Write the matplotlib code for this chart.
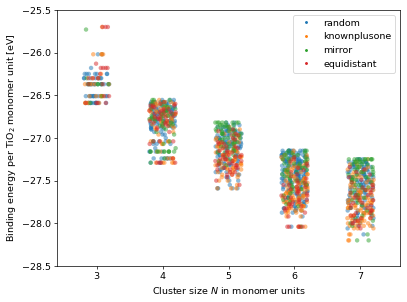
import numpy as np
import pandas as pd
import matplotlib
matplotlib.use("Agg")
import matplotlib.pyplot as plt
from matplotlib.lines import Line2D
import seaborn as sns

methods = ["random", "knownplusone", "mirror", "equidistant"]
colors = ["#1f77b4", "#ff7f0e", "#2ca02c", "#d62728"]
sizes = [3, 4, 5, 6, 7]

# energy levels (eV per TiO2 unit) and number of structures per level, per method
e3 = [-25.70, -25.73, -26.02, -26.13, -26.18, -26.25, -26.30, -26.37, -26.51, -26.59]
c3_random = [0, 0, 2, 0, 1, 7, 8, 14, 12, 12]
c3_known = [1, 0, 4, 0, 0, 1, 2, 5, 5, 5]
c3_mirror = [0, 1, 0, 0, 0, 0, 1, 5, 1, 1]
c3_equi = [3, 0, 0, 1, 4, 1, 3, 2, 2, 4]

e4 = [-26.555, -26.58, -26.60, -26.62, -26.64, -26.66, -26.68, -26.70, -26.72,
      -26.74, -26.76, -26.78, -26.80, -26.82, -26.84, -26.86, -26.88, -26.90,
      -26.93, -26.96, -27.00, -27.04, -27.07, -27.12, -27.16, -27.24, -27.29]
c4_random = [3, 8, 5, 5, 6, 5, 6, 6, 7, 6, 5, 6, 6, 5, 5, 5, 4, 3, 2, 2, 1, 3, 3, 1, 4, 6, 3]
c4_known = [1, 4, 3, 2, 3, 2, 2, 3, 3, 2, 3, 2, 3, 2, 2, 2, 2, 1, 1, 1, 0, 4, 2, 0, 2, 4, 5]
c4_mirror = [3, 1, 2, 2, 2, 2, 3, 2, 2, 3, 2, 3, 2, 2, 2, 2, 1, 1, 1, 1, 0, 2, 1, 1, 10, 1, 1]
c4_equi = [0, 1, 2, 3, 2, 2, 3, 3, 2, 2, 3, 2, 2, 2, 1, 1, 1, 1, 1, 0, 0, 3, 1, 0, 0, 1, 4]

e5 = [-26.82, -26.85, -26.87, -26.90, -26.92, -26.95, -26.97, -27.00, -27.02, -27.05,
      -27.07, -27.10, -27.12, -27.15, -27.17, -27.20, -27.22, -27.25, -27.27, -27.30,
      -27.32, -27.35, -27.37, -27.40, -27.43, -27.46, -27.50, -27.55, -27.59]
c5_random = [2, 3, 4, 5, 6, 6, 6, 5, 6, 6, 5, 5, 5, 4, 4, 4, 4, 3, 3, 4, 3, 3, 3, 3, 2, 2, 2, 1, 4]
c5_known = [0, 0, 1, 1, 1, 2, 2, 2, 2, 3, 3, 3, 3, 4, 4, 4, 4, 4, 4, 4, 4, 4, 3, 3, 3, 2, 2, 1, 3]
c5_mirror = [8, 4, 4, 4, 4, 4, 3, 3, 3, 3, 3, 3, 2, 2, 2, 1, 1, 1, 1, 1, 1, 0, 0, 0, 0, 0, 0, 0, 0]
c5_equi = [0, 0, 0, 1, 1, 1, 1, 1, 1, 2, 2, 2, 2, 2, 2, 3, 3, 3, 3, 3, 3, 3, 2, 2, 2, 1, 1, 1, 0]

e6 = [-27.150, -27.175, -27.200, -27.225, -27.250, -27.275, -27.300, -27.325,
      -27.350, -27.375, -27.400, -27.425, -27.450, -27.475, -27.500, -27.525,
      -27.550, -27.575, -27.600, -27.625, -27.650, -27.675, -27.700, -27.725,
      -27.750, -27.775, -27.800, -27.825, -27.850, -27.875, -27.920, -28.040]
c6_random = [10, 8, 8, 8, 8, 8, 7, 7, 7, 7, 7, 6, 6, 6, 6, 6, 5, 5, 5, 5, 5, 4, 4, 4, 4, 3, 3, 3, 3, 2, 1, 1]
c6_known = [1, 1, 2, 2, 2, 2, 2, 3, 3, 3, 3, 3, 3, 4, 4, 4, 4, 4, 5, 5, 5, 5, 5, 5, 5, 5, 4, 4, 4, 3, 2, 3]
c6_mirror = [3, 3, 3, 3, 3, 3, 3, 3, 3, 3, 2, 2, 2, 2, 2, 2, 2, 2, 2, 1, 1, 1, 1, 1, 1, 1, 1, 0, 0, 0, 0, 1]
c6_equi = [0, 0, 0, 1, 1, 1, 1, 1, 1, 1, 1, 1, 1, 1, 1, 2, 2, 2, 2, 2, 2, 2, 2, 2, 2, 2, 2, 2, 1, 1, 1, 5]

e7 = [-27.25, -27.28, -27.31, -27.34, -27.37, -27.40, -27.43, -27.46, -27.49, -27.52,
      -27.55, -27.58, -27.61, -27.64, -27.67, -27.70, -27.73, -27.76, -27.79, -27.82,
      -27.85, -27.88, -27.91, -27.94, -27.97, -28.00, -28.03, -28.06, -28.13, -28.20]
c7_random = [4, 6, 6, 7, 7, 7, 7, 7, 7, 7, 6, 6, 5, 5, 5, 5, 4, 4, 4, 4, 3, 3, 3, 3, 2, 2, 2, 1, 1, 0]
c7_known = [1, 1, 2, 2, 2, 2, 2, 3, 3, 3, 3, 3, 4, 4, 4, 5, 5, 5, 5, 5, 5, 5, 5, 5, 5, 4, 4, 3, 2, 2]
c7_mirror = [10, 5, 4, 3, 3, 3, 3, 3, 3, 2, 2, 2, 2, 2, 2, 2, 2, 1, 1, 1, 1, 1, 1, 1, 1, 1, 1, 0, 1, 2]
c7_equi = [0, 0, 0, 1, 1, 1, 1, 1, 1, 1, 1, 2, 2, 2, 2, 2, 2, 2, 2, 2, 2, 2, 2, 2, 2, 2, 1, 1, 0, 0]

levels = {3: e3, 4: e4, 5: e5, 6: e6, 7: e7}
counts = {
    3: [c3_random, c3_known, c3_mirror, c3_equi],
    4: [c4_random, c4_known, c4_mirror, c4_equi],
    5: [c5_random, c5_known, c5_mirror, c5_equi],
    6: [c6_random, c6_known, c6_mirror, c6_equi],
    7: [c7_random, c7_known, c7_mirror, c7_equi],
}

rows = []
for n in sizes:
    for m, cnt in zip(methods, counts[n]):
        for e in np.repeat(levels[n], cnt):
            rows.append((str(n), m, e))
df = pd.DataFrame(rows, columns=["N", "method", "energy"])

plt.rcParams["font.size"] = 10.8

np.random.seed(3)
fig = plt.figure(figsize=(6.4, 4.75), dpi=63.6)
ax = fig.add_axes([57 / 407, 1 - 266 / 302, (400 - 57) / 407, (266 - 10) / 302])
sns.stripplot(data=df, x="N", y="energy", hue="method", order=[str(s) for s in sizes],
              hue_order=methods, palette=colors, jitter=0.2, size=5, alpha=0.5,
              linewidth=0, ax=ax, legend=False)

ax.set_xlim(-0.6, 4.6)
ax.set_ylim(-28.5, -25.5)
ax.set_yticks([-25.5, -26.0, -26.5, -27.0, -27.5, -28.0, -28.5])
ax.set_xlabel("Cluster size $N$ in monomer units")
ax.set_ylabel("Binding energy per TiO$_2$ monomer unit [eV]")

handles = [Line2D([], [], marker="o", linestyle="", color=c, markersize=2.2) for c in colors]
ax.legend(handles, methods, loc="upper right")

fig.savefig("out.png", dpi=63.6)
